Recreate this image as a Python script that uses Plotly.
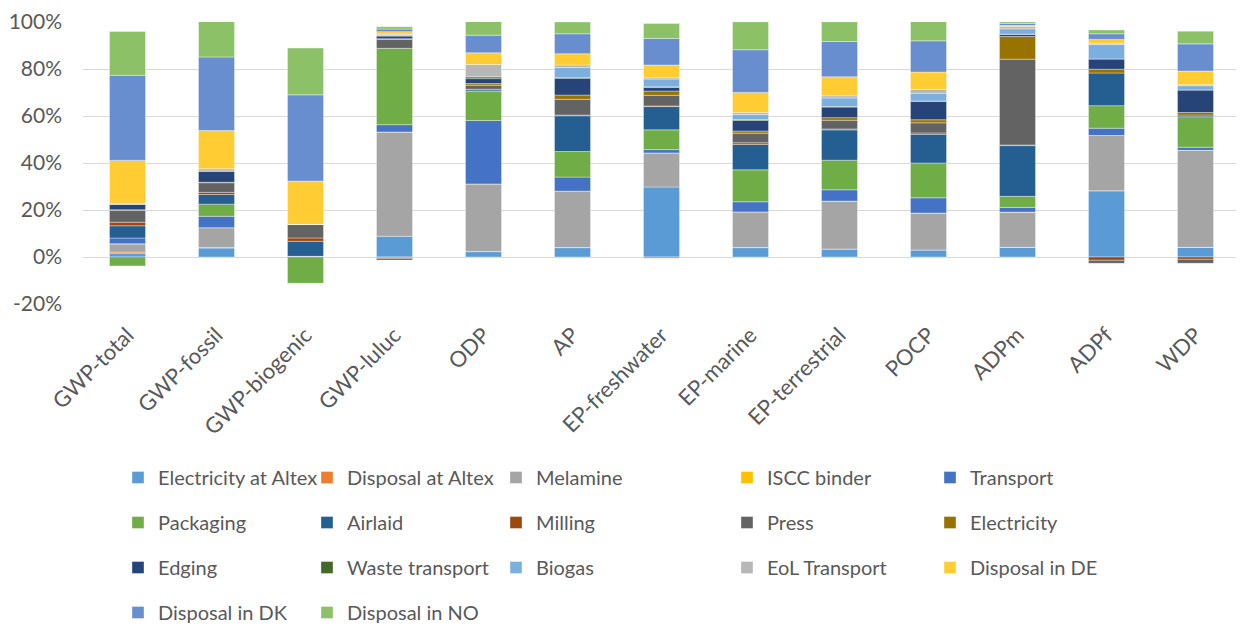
import plotly.graph_objects as go

categories = ["GWP-total", "GWP-fossil", "GWP-biogenic", "GWP-luluc", "ODP", "AP",
              "EP-freshwater", "EP-marine", "EP-terrestrial", "POCP", "ADPm", "ADPf", "WDP"]

electricity_at_altex = [1.6, 3.8, 0.3, 8.8, 2.3, 4.0, 29.8, 4.0, 3.4, 3.0, 4.1, 28.2, 4.1]
disposal_at_altex = [0.5, 0.3, 0.0, -0.2, 0.0, 0.0, -0.5, 0.0, 0.0, 0.0, 0.0, 0.0, 0.0]
melamine = [3.5, 8.4, 0.0, 44.4, 28.8, 24.0, 14.5, 15.2, 20.4, 15.7, 15.0, 23.5, 41.3]
iscc_binder = [0.0, 0.0, 0.0, 0.0, 0.0, 0.0, 0.0, 0.0, 0.0, 0.0, 0.0, 0.0, 0.0]
transport = [2.5, 4.8, 0.0, 3.1, 27.0, 6.0, 1.4, 4.3, 4.8, 6.5, 2.0, 3.1, 1.3]
packaging = [-3.8, 5.2, -11.2, 32.5, 12.3, 10.9, 8.4, 13.6, 12.6, 14.8, 4.7, 9.6, 13.0]
airlaid = [5.2, 4.1, 6.4, -0.4, 0.7, 15.2, 9.9, 10.8, 12.9, 12.2, 21.6, 13.9, 0.7]
milling = [1.5, 0.9, 1.4, -0.7, 0.3, 0.3, 0.3, 0.7, 0.4, 0.6, 0.3, -1.4, -1.0]
press = [5.1, 4.1, 5.8, 3.8, 1.7, 6.7, 4.5, 4.1, 3.7, 4.3, 36.5, -1.3, -1.7]
electricity = [0.2, 0.2, 0.0, 0.3, 0.7, 1.8, 1.8, 0.9, 1.1, 1.3, 9.6, 1.6, 1.1]
edging = [2.4, 4.8, 0.0, 1.1, 2.1, 7.2, 1.6, 4.5, 4.5, 7.8, 1.0, 4.4, 9.6]
waste_transport = [0.0, 0.0, 0.0, 0.2, 0.8, 0.2, 0.2, 0.4, 0.2, 0.2, 0.0, 0.0, 0.0]
biogas = [0.0, 0.0, 0.0, 0.4, 0.0, 4.3, 3.3, 2.1, 3.7, 3.3, 2.3, 6.1, 1.8]
eol_transport = [0.4, 1.0, 0.0, 0.3, 5.2, 1.1, 0.6, 0.9, 0.9, 1.6, 1.0, 0.6, 0.4]
disposal_in_de = [18.2, 16.2, 18.4, 1.0, 5.0, 4.8, 5.4, 8.5, 8.1, 7.4, 0.4, 1.6, 5.8]
disposal_in_dk = [36.2, 31.3, 36.7, 1.1, 7.5, 8.5, 11.3, 18.2, 15.0, 13.3, 0.9, 2.4, 11.6]
disposal_in_no = [18.7, 15.3, 19.9, 1.0, 5.8, 5.0, 6.4, 11.9, 8.4, 8.4, 0.7, 1.6, 5.4]

series_names = ["Electricity at Altex", "Disposal at Altex", "Melamine", "ISCC binder", "Transport",
                "Packaging", "Airlaid", "Milling", "Press", "Electricity",
                "Edging", "Waste transport", "Biogas", "EoL Transport", "Disposal in DE",
                "Disposal in DK", "Disposal in NO"]
series_values = [electricity_at_altex, disposal_at_altex, melamine, iscc_binder, transport,
                 packaging, airlaid, milling, press, electricity,
                 edging, waste_transport, biogas, eol_transport, disposal_in_de,
                 disposal_in_dk, disposal_in_no]
colors = ["#5B9BD5", "#ED7D31", "#A5A5A5", "#FFC000", "#4472C4",
          "#70AD47", "#255E91", "#9E480E", "#636363", "#997300",
          "#264478", "#43682B", "#7CAFDD", "#B7B7B7", "#FFCD33",
          "#698ED0", "#8CC168"]

tick_vals = [-20, 0, 20, 40, 60, 80, 100]
tick_text = ["-20%", "0%", "20%", "40%", "60%", "80%", "100%"]

FONT = "Lato"
GREY = "#595959"

fig = go.Figure()
legend_ids = ["legend", "legend2", "legend3", "legend4", "legend5"]
for i, (name, vals, col) in enumerate(zip(series_names, series_values, colors)):
    fig.add_trace(go.Bar(
        name=name, x=categories, y=vals,
        marker=dict(color=col, line=dict(color="rgba(255,255,255,0.6)", width=0.6)),
        legend=legend_ids[i % 5], legendgroup=name,
    ))

# page has an 8px body margin, so figure coords = page coords - 8
OFF = 8
W, H = 1244 - OFF, 625 - OFF
plot_left, plot_right, plot_top, plot_bottom = 83 - OFF, 1240 - OFF, 22 - OFF, 304 - OFF
pw = plot_right - plot_left
ph = plot_bottom - plot_top

legend_lefts = [118 - OFF, 307 - OFF, 496 - OFF, 727 - OFF, 930 - OFF]
legend_top = 458 - OFF
legend_layout = {}
for lid, lx in zip(legend_ids, legend_lefts):
    legend_layout[lid] = dict(
        x=(lx - plot_left) / pw, y=(plot_bottom - legend_top) / ph,
        xanchor="left", yanchor="top", orientation="v",
        traceorder="grouped", tracegroupgap=16,
        font=dict(family=FONT, size=20, color=GREY),
        bgcolor="rgba(0,0,0,0)",
    )

fig.update_layout(
    width=W, height=H,
    barmode="relative", bargap=0.595,
    plot_bgcolor="white", paper_bgcolor="white",
    margin=dict(l=plot_left, r=W - plot_right, t=plot_top, b=H - plot_bottom, autoexpand=False),
    font=dict(family=FONT, size=20, color=GREY),
    showlegend=True,
    **legend_layout,
)
fig.update_xaxes(tickangle=-45, tickfont=dict(family=FONT, size=22, color=GREY),
                 showgrid=False, showline=False, ticks="", ticklabelstandoff=13)
fig.update_yaxes(range=[-20, 100], tickvals=tick_vals, ticktext=tick_text,
                 tickfont=dict(family=FONT, size=21, color=GREY),
                 showgrid=True, gridcolor="#D9D9D9", gridwidth=1.3,
                 zeroline=True, zerolinecolor="#D9D9D9", zerolinewidth=1.3,
                 ticklabelstandoff=20)

fig.write_html("out.html")
